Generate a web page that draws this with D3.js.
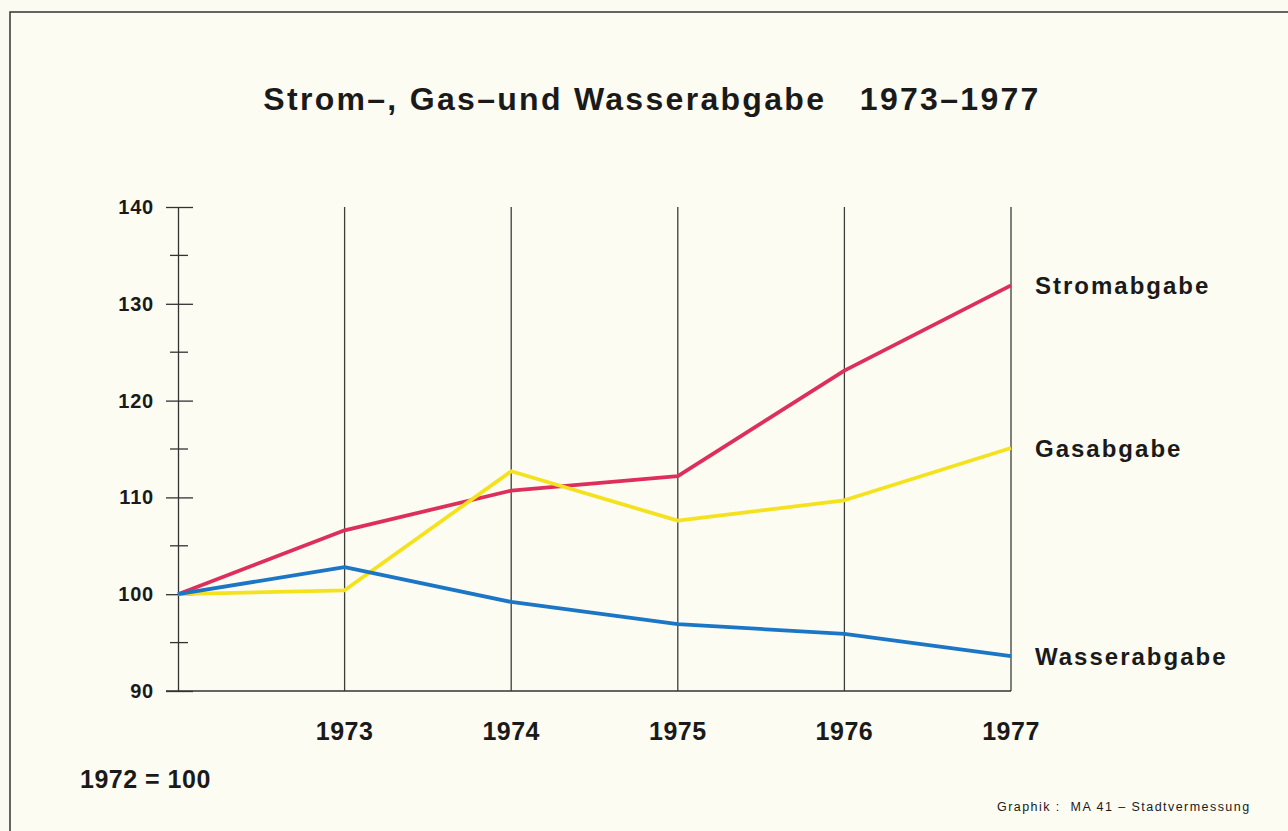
<!DOCTYPE html>
<html>
<head>
<meta charset="utf-8">
<script src="https://cdn.jsdelivr.net/npm/d3@7"></script>
<style>
  body { margin: 0; background: #fbfbf1; }
  svg { display: block; }
  text { font-family: "Liberation Sans", Arial, sans-serif; font-weight: bold; fill: #1a1a1a; }
</style>
</head>
<body>
<svg id="chart" width="1288" height="831"></svg>
<script>
const years = [1972, 1973, 1974, 1975, 1976, 1977];
const yearLabels = ["1973", "1974", "1975", "1976", "1977"];
const strom = [100, 106.6, 110.7, 112.2, 123.1, 131.9];
const gas = [100, 100.4, 112.7, 107.6, 109.7, 115.1];
const wasser = [100, 102.8, 99.2, 96.9, 95.9, 93.6];
const yTicks = [90, 100, 110, 120, 130, 140];
const yMinor = [95, 105, 115, 125, 135];

const seriesList = [
    {name: "Stromabgabe", values: strom, color: "#de2f5c"},
    {name: "Gasabgabe", values: gas, color: "#f4e21e"},
    {name: "Wasserabgabe", values: wasser, color: "#1c76c6"}
];

const svg = d3.select("#chart");

// frame of the printed page
svg.append("rect")
    .attr("x", 10).attr("y", 12)
    .attr("width", 1290).attr("height", 830)
    .attr("fill", "#fcfcf3")
    .attr("stroke", "#333").attr("stroke-width", 1.5);

const x = d3.scaleLinear()
    .domain([1972, 1977])
    .range([178, 1011]);

const y = d3.scaleLinear()
    .domain([90, 140])
    .range([691, 207]);

// title
svg.append("text")
    .attr("x", 652).attr("y", 110)
    .attr("text-anchor", "middle")
    .style("font-size", "32px")
    .style("letter-spacing", "2.3px")
    .attr("xml:space", "preserve")
    .text("Strom–, Gas–und Wasserabgabe   1973–1977");

// vertical year lines
svg.append("g")
    .selectAll("line")
    .data(years.slice(1))
    .join("line")
    .attr("x1", d => x(d)).attr("x2", d => x(d))
    .attr("y1", y(140)).attr("y2", y(90))
    .attr("stroke", "#3a3f3a").attr("stroke-width", 1.3);

// y axis
const yAxis = svg.append("g")
    .attr("transform", `translate(${x(1972)},0)`)
    .call(d3.axisLeft(y).tickValues(yTicks).tickSize(12).tickSizeOuter(0).tickPadding(12));
yAxis.select(".domain").attr("stroke", "#333").attr("stroke-width", 1.3);
yAxis.selectAll(".tick line")
    .attr("x2", 15).attr("x1", -12)
    .attr("stroke", "#333").attr("stroke-width", 1.3);
yAxis.selectAll(".tick text")
    .attr("x", -24)
    .style("font-size", "20px")
    .style("letter-spacing", "0.8px")
    .style("font-family", "Liberation Sans, Arial, sans-serif")
    .style("font-weight", "bold")
    .attr("fill", "#1a1a1a");

svg.append("g")
    .selectAll("line")
    .data(yMinor)
    .join("line")
    .attr("x1", x(1972) - 8).attr("x2", x(1972) + 10)
    .attr("y1", d => y(d)).attr("y2", d => y(d))
    .attr("stroke", "#333").attr("stroke-width", 1.3);

// bottom line
svg.append("line")
    .attr("x1", x(1972) - 12).attr("x2", x(1977))
    .attr("y1", y(90)).attr("y2", y(90))
    .attr("stroke", "#333").attr("stroke-width", 1.3);

// year labels
svg.append("g")
    .selectAll("text")
    .data(yearLabels)
    .join("text")
    .attr("x", d => x(+d)).attr("y", 740)
    .attr("text-anchor", "middle")
    .style("font-size", "25px")
    .style("letter-spacing", "0.5px")
    .text(d => d);

// series lines
const line = d3.line()
    .x((d, i) => x(years[i]))
    .y(d => y(d));

svg.append("g")
    .selectAll("path")
    .data(seriesList)
    .join("path")
    .attr("d", d => line(d.values))
    .attr("fill", "none")
    .attr("stroke", d => d.color)
    .attr("stroke-width", 3.8)
    .attr("stroke-linejoin", "round");

// end labels
svg.append("g")
    .selectAll("text")
    .data(seriesList)
    .join("text")
    .attr("x", 1035)
    .attr("y", d => y(d.values[5]) + 9)
    .style("font-size", "24px")
    .style("letter-spacing", "2px")
    .text(d => d.name);

svg.append("text")
    .attr("x", 80).attr("y", 788)
    .style("font-size", "25px")
    .style("letter-spacing", "0.5px")
    .attr("xml:space", "preserve")
    .text("1972 = 100");

svg.append("text")
    .attr("x", 997).attr("y", 811)
    .style("font-size", "12.5px")
    .style("font-weight", "normal")
    .style("letter-spacing", "1.45px")
    .attr("fill", "#555")
    .attr("xml:space", "preserve")
    .text("Graphik :  MA 41 – Stadtvermessung");
</script>
</body>
</html>
